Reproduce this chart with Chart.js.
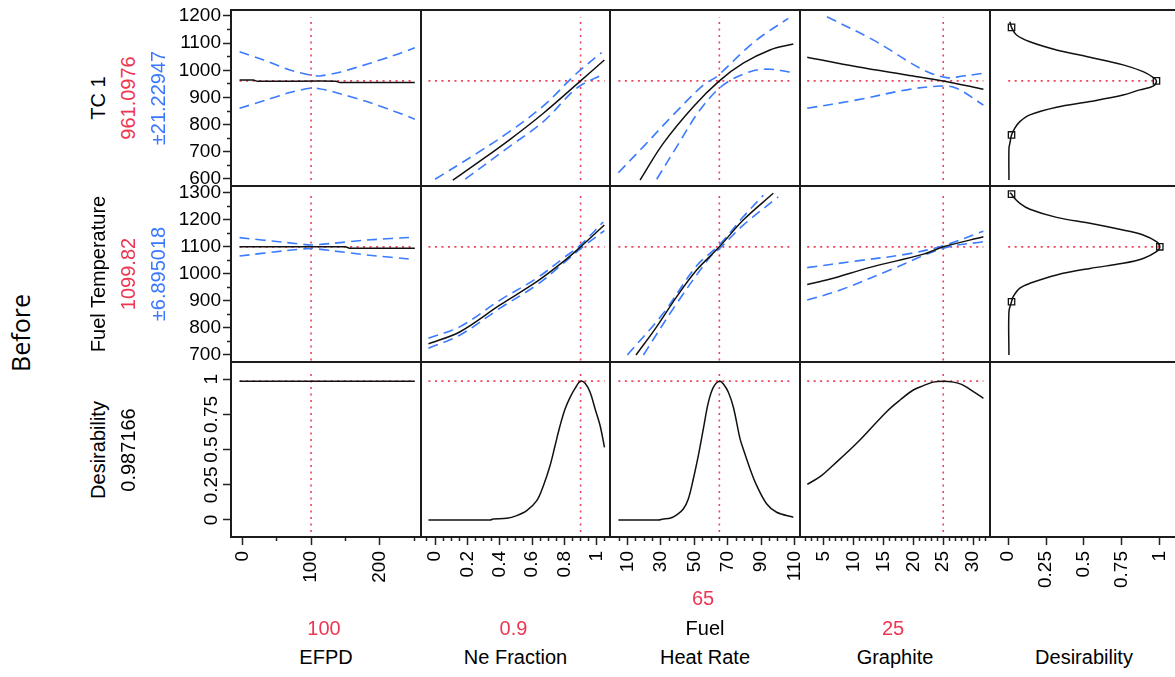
<!DOCTYPE html>
<html>
<head>
<meta charset="utf-8">
<title>Prediction Profiler</title>
<script src="https://cdn.jsdelivr.net/npm/chart.js@4.4.1/dist/chart.umd.min.js"></script>
<style>
  html, body { margin: 0; padding: 0; background: #fff; }
  body { position: relative; width: 1175px; height: 677px; overflow: hidden;
         font-family: 'Liberation Sans', Arial, sans-serif; }
  canvas { position: absolute; }
  .lbl { position: absolute; white-space: nowrap; font-size: 20px; line-height: 1;
         color: #000; transform: translate(-50%, -50%); }
  .lbl.rot { transform: translate(-50%, -50%) rotate(-90deg); }
</style>
</head>
<body>
<script>
// ---- factors and responses ----
const factorLabels = [['EFPD'], ['Ne Fraction'], ['Fuel', 'Heat Rate'], ['Graphite'], ['Desirability']];
const factorSettings = [100, 0.9, 65, 25];
const factorSpans = [[-4, 251], [-0.041, 1.048], [4.5, 109.3], [2.3, 31.7]];
const responseLabels = ['TC 1', 'Fuel Temperature', 'Desirability'];
const responsePredicted = [961.0976, 1099.82, 0.987166];
const responseHalfWidth = [21.22947, 6.895018, null];
const responseSpans = [[596, 1196], [680, 1298], [-0.085, 1.066]];

// ---- tick labels ----
const efpdTicks = [0, 100, 200];
const efpdMinor = [50, 150, 250];
const neTicks = [0, 0.2, 0.4, 0.6, 0.8, 1];
const heatTicks = [10, 30, 50, 70, 90, 110];
const graphiteTicks = [5, 10, 15, 20, 25, 30];
const desireTicks = [0, 0.25, 0.5, 0.75, 1];
const tc1Ticks = [600, 700, 800, 900, 1000, 1100, 1200];
const fuelTempTicks = [700, 800, 900, 1000, 1100, 1200, 1300];

// ---- TC 1 profiles: [factor, response] ----
const tc1EfpdFit = [[-4, 964], [16, 964], [22, 960], [136, 960], [142, 955], [251, 955]];
const tc1EfpdHi = [[-4, 1068], [31, 1038], [69, 1001], [100, 982], [113, 979], [142, 993], [181, 1022], [229, 1062], [251, 1083]];
const tc1EfpdLo = [[-4, 860], [35, 891], [69, 918], [98, 934], [110, 933], [132, 921], [181, 885], [229, 842], [251, 820]];
const tc1NeFit = [[0.11, 596], [0.26, 658], [0.46, 744], [0.67, 842], [0.9, 961], [1.047, 1038]];
const tc1NeHi = [[0, 599], [0.26, 695], [0.46, 774], [0.67, 869], [0.876, 989], [1.03, 1065]];
const tc1NeLo = [[0.186, 599], [0.46, 719], [0.67, 811], [0.876, 934], [1.03, 983]];
const tc1HeatFit = [[17.5, 596], [31.4, 731], [49.4, 866], [65, 961], [79.3, 1026], [95.3, 1075], [109.3, 1097]];
const tc1HeatHi = [[4.5, 623], [19.5, 719], [37.4, 836], [55.4, 946], [63.8, 979], [81.4, 1081], [91.3, 1130], [106.3, 1191]];
const tc1HeatLo = [[27.5, 599], [39.5, 719], [53.4, 854], [67.4, 946], [83.4, 995], [95.3, 1004], [109.3, 991]];
const tc1GraphFit = [[2.3, 1048], [10.6, 1013], [18.9, 983], [25, 961], [31.7, 930]];
const tc1GraphHi = [[5.6, 1197], [13.3, 1112], [21.7, 1001], [25.6, 973], [28.3, 979], [31.7, 989]];
const tc1GraphLo = [[2.3, 860], [10.6, 891], [18.9, 928], [24.5, 942], [27.2, 934], [31.7, 872]];
// desirability function for TC 1: [desirability, TC 1]
const tc1Desire = [[0.011, 1179], [0.022, 1158], [0.055, 1130], [0.143, 1105], [0.319, 1075], [0.539, 1048],
  [0.758, 1020], [0.89, 995], [0.956, 974], [0.978, 961], [0.956, 942], [0.868, 928], [0.758, 909],
  [0.539, 885], [0.319, 864], [0.143, 836], [0.077, 811], [0.044, 787], [0.022, 762], [0.011, 731],
  [0.005, 713], [0.005, 596]];
const tc1Marks = [[0.022, 1158], [0.978, 961], [0.022, 762]];

// ---- Fuel Temperature profiles ----
const ftEfpdFit = [[-4, 1100], [150, 1100], [156, 1095], [251, 1095]];
const ftEfpdHi = [[-4, 1134], [60, 1117], [100, 1107], [132, 1113], [181, 1125], [251, 1136]];
const ftEfpdLo = [[-4, 1066], [60, 1085], [100, 1094], [132, 1085], [181, 1070], [251, 1053]];
const ftNeFit = [[-0.041, 741], [0.155, 786], [0.402, 885], [0.629, 971], [0.793, 1045], [0.9, 1100], [1.047, 1181]];
const ftNeHi = [[-0.041, 762], [0.155, 805], [0.402, 903], [0.629, 984], [0.793, 1058], [0.9, 1107], [1.04, 1192]];
const ftNeLo = [[-0.041, 725], [0.155, 774], [0.402, 873], [0.629, 959], [0.793, 1039], [0.9, 1093], [1.047, 1160]];
const ftHeatFit = [[15.1, 700], [27.5, 805], [39.5, 916], [51.4, 1014], [65, 1100], [79.3, 1199], [97.3, 1298]];
const ftHeatHi = [[9.9, 700], [31.4, 854], [51.4, 1030], [65, 1107], [79.3, 1211], [91.3, 1291]];
const ftHeatLo = [[19.5, 700], [39.5, 891], [59.4, 1062], [65, 1093], [79.3, 1180], [100.3, 1285]];
const ftGraphFit = [[2.3, 961], [6, 980], [12.8, 1024], [21.7, 1073], [25, 1100], [31.7, 1137]];
const ftGraphHi = [[2.3, 1023], [10.6, 1048], [18.9, 1073], [25, 1104], [31.7, 1158]];
const ftGraphLo = [[2.3, 903], [7.8, 940], [16.1, 1014], [25, 1095], [31.7, 1119]];
const ftDesire = [[0.011, 1300], [0.022, 1295], [0.033, 1285], [0.077, 1261], [0.143, 1239], [0.319, 1209],
  [0.539, 1187], [0.758, 1162], [0.89, 1144], [0.978, 1119], [1.0, 1100], [0.978, 1082], [0.89, 1057],
  [0.758, 1039], [0.539, 1020], [0.319, 996], [0.143, 965], [0.077, 947], [0.033, 916], [0.022, 897],
  [0.005, 860], [0.005, 700]];
const ftMarks = [[0.022, 1295], [1.0, 1100], [0.022, 897]];

// ---- overall desirability profiles ----
const desEfpd = [[-4, 0.987], [251, 0.987]];
const desNe = [[-0.041, 0], [0.34, 0], [0.36, 0.007], [0.443, 0.012], [0.505, 0.031], [0.567, 0.066],
  [0.629, 0.137], [0.67, 0.244], [0.711, 0.386], [0.742, 0.528], [0.773, 0.67], [0.804, 0.789],
  [0.835, 0.872], [0.866, 0.936], [0.9, 0.987], [0.928, 0.972], [0.959, 0.908], [0.99, 0.789],
  [1.021, 0.67], [1.048, 0.516]];
const desHeat = [[4.5, 0], [28.4, 0], [31.4, 0.007], [35.4, 0.012], [39.5, 0.036], [43.4, 0.078],
  [46.4, 0.149], [49.4, 0.291], [52.4, 0.457], [55.4, 0.647], [58.4, 0.836], [61.4, 0.943], [65, 0.987],
  [67.4, 0.967], [70.4, 0.908], [73.4, 0.801], [77.4, 0.576], [79.3, 0.505], [83.4, 0.363],
  [87.4, 0.244], [93.4, 0.114], [99.3, 0.055], [109.3, 0.019]];
const desGraph = [[2.33, 0.254], [4.45, 0.308], [6.67, 0.391], [10.55, 0.545], [15.55, 0.77],
  [17.8, 0.853], [20, 0.924], [21.7, 0.955], [23.3, 0.98], [25, 0.987], [26.7, 0.98], [28.05, 0.964],
  [29.45, 0.929], [31.7, 0.865]];

// ---- layout ----
const colEdges = [231, 421, 610, 800, 990, 1178];
const rowEdges = [10, 186, 362, 537];
const AXIS_W = 70, AXIS_H = 60, PAD = 2;
const RED = '#f0405a', BLUE = '#3b7bff', INK = '#111';

Chart.defaults.font.family = "'Liberation Sans', Arial, sans-serif";
Chart.defaults.font.size = 19;
Chart.defaults.color = '#000';

function stepRange(from, to, step) {
  const out = [];
  const n = Math.round((to - from) / step);
  for (let i = 0; i <= n; i++) out.push(Math.round((from + i * step) * 1e6) / 1e6);
  return out;
}

function tickSet(major, minor) {
  const out = major.map(v => ({ value: v }));
  minor.forEach(v => {
    if (!major.some(m => Math.abs(m - v) < 1e-9)) out.push({ value: v, minor: true });
  });
  return out.sort((a, b) => a.value - b.value);
}

const colAxes = [
  { min: -16.5, max: 260, ticks: tickSet(efpdTicks, efpdMinor) },
  { min: -0.087, max: 1.082, ticks: tickSet(neTicks, stepRange(-0.05, 1.05, 0.05)) },
  { min: -0.5, max: 113.3, ticks: tickSet(heatTicks, stepRange(5, 110, 5)) },
  { min: 1.1, max: 32.8, ticks: tickSet(graphiteTicks, stepRange(2, 32, 1)) },
  { min: -0.12, max: 1.12, ticks: tickSet(desireTicks, []) }
];
const rowAxes = [
  { min: 574, max: 1222, ticks: tickSet(tc1Ticks, stepRange(650, 1150, 100)) },
  { min: 674, max: 1325, ticks: tickSet(fuelTempTicks, stepRange(750, 1250, 100)) },
  { min: -0.121, max: 1.123, ticks: tickSet(desireTicks, []), rotate: true }
];

// curves per panel [row][col]
const panelCurves = [
  [
    { fit: tc1EfpdFit, hi: tc1EfpdHi, lo: tc1EfpdLo, tension: 0.2 },
    { fit: tc1NeFit, hi: tc1NeHi, lo: tc1NeLo },
    { fit: tc1HeatFit, hi: tc1HeatHi, lo: tc1HeatLo },
    { fit: tc1GraphFit, hi: tc1GraphHi, lo: tc1GraphLo },
    { fit: tc1Desire, marks: tc1Marks }
  ],
  [
    { fit: ftEfpdFit, hi: ftEfpdHi, lo: ftEfpdLo, tension: 0.2 },
    { fit: ftNeFit, hi: ftNeHi, lo: ftNeLo },
    { fit: ftHeatFit, hi: ftHeatHi, lo: ftHeatLo },
    { fit: ftGraphFit, hi: ftGraphHi, lo: ftGraphLo },
    { fit: ftDesire, marks: ftMarks }
  ],
  [
    { fit: desEfpd, tension: 0 },
    { fit: desNe },
    { fit: desHeat },
    { fit: desGraph },
    null
  ]
];

const toXY = pts => pts.map(([x, y]) => ({ x, y }));

function line(points, color, width, dash, order, tension) {
  return {
    data: toXY(points), borderColor: color, borderWidth: width, borderDash: dash,
    pointRadius: 0, tension: tension, fill: false, order: order
  };
}

function panelDatasets(r, c) {
  const spec = panelCurves[r][c];
  const sets = [];
  if (!spec) return sets;
  const t = spec.tension !== undefined ? spec.tension : 0.35;
  sets.push(line(spec.fit, INK, 1.5, [], 0, t));
  if (spec.hi) sets.push(line(spec.hi, BLUE, 1.6, [10, 6], 1, t));
  if (spec.lo) sets.push(line(spec.lo, BLUE, 1.6, [10, 6], 1, t));
  if (spec.marks) {
    sets.push({
      data: toXY(spec.marks), showLine: false, pointStyle: 'rect', pointRadius: 4.5,
      pointBorderColor: INK, pointBackgroundColor: 'rgba(255,255,255,0)', pointBorderWidth: 1.3, order: 0
    });
    // current response level, out to the predicted desirability
    const peak = spec.marks[1];
    sets.push(line([[0, responsePredicted[r]], [peak[0], responsePredicted[r]]], RED, 1.6, [2, 4.5], 2, 0));
  } else {
    const span = factorSpans[c];
    sets.push(line([[span[0], responsePredicted[r]], [span[1], responsePredicted[r]]], RED, 1.6, [2, 4.5], 2, 0));
  }
  if (c < factorSettings.length) {
    const ys = responseSpans[r];
    sets.push(line([[factorSettings[c], ys[0]], [factorSettings[c], ys[1]]], RED, 1.6, [2, 4.5], 2, 0));
  }
  return sets;
}

function axisOptions(horizontal, cfg, shown) {
  const opt = {
    type: 'linear',
    position: horizontal ? 'bottom' : 'left',
    min: cfg.min,
    max: cfg.max,
    display: shown,
    border: { display: false },
    grid: {
      drawOnChartArea: false,
      tickLength: 8,
      tickWidth: 1.5,
      tickColor: '#222',
      // minor ticks keep only the half next to the frame
      tickBorderDash: ctx => (ctx.tick && ctx.tick.minor) ? (horizontal ? [4, 50] : [0, 4, 4, 50]) : []
    },
    ticks: {
      autoSkip: false,
      color: '#000',
      padding: 2,
      callback: (v, i, ticks) => ticks[i].minor ? '' : String(v)
    },
    afterBuildTicks: scale => { scale.ticks = cfg.ticks.map(t => Object.assign({}, t)); }
  };
  if (horizontal) {
    opt.ticks.minRotation = 90;
    opt.ticks.maxRotation = 90;
    opt.ticks.padding = 6;
  } else if (cfg.rotate) {
    opt.ticks.minRotation = 90;
    opt.ticks.maxRotation = 90;
    opt.ticks.crossAlign = 'center';
    opt.ticks.padding = -7.5;
  }
  if (shown) {
    opt.afterFit = scale => {
      if (horizontal) scale.height = AXIS_H; else scale.width = AXIS_W;
      scale.paddingLeft = 0; scale.paddingRight = 0;
      scale.paddingTop = 0; scale.paddingBottom = 0;
    };
  }
  return opt;
}

const panelFrame = {
  id: 'panelFrame',
  afterDraw(chart) {
    const a = chart.chartArea, ctx = chart.ctx;
    ctx.save();
    ctx.strokeStyle = '#1c1c1c';
    ctx.lineWidth = 2;
    ctx.strokeRect(a.left, a.top, a.right - a.left, a.bottom - a.top);
    ctx.restore();
  }
};

for (let r = 0; r < 3; r++) {
  for (let c = 0; c < 5; c++) {
    const showY = c === 0, showX = r === 2;
    const w = colEdges[c + 1] - colEdges[c] + 2 * PAD + (showY ? AXIS_W : 0);
    const h = rowEdges[r + 1] - rowEdges[r] + 2 * PAD + (showX ? AXIS_H : 0);
    const cv = document.createElement('canvas');
    cv.width = w; cv.height = h;
    cv.style.width = w + 'px'; cv.style.height = h + 'px';
    cv.style.left = (colEdges[c] - PAD - (showY ? AXIS_W : 0)) + 'px';
    cv.style.top = (rowEdges[r] - PAD) + 'px';
    document.body.appendChild(cv);
    new Chart(cv.getContext('2d'), {
      type: 'line',
      data: { datasets: panelDatasets(r, c) },
      options: {
        responsive: false,
        animation: false,
        devicePixelRatio: 1,
        events: [],
        layout: { padding: PAD, autoPadding: false },
        plugins: { legend: { display: false }, tooltip: { enabled: false } },
        scales: {
          x: axisOptions(true, colAxes[c], showX),
          y: axisOptions(false, rowAxes[r], showY)
        }
      },
      plugins: [panelFrame]
    });
  }
}

// ---- text around the grid ----
function addLabel(text, x, y, opts) {
  const d = document.createElement('div');
  d.className = 'lbl' + (opts.rot ? ' rot' : '');
  d.textContent = text;
  d.style.left = x + 'px';
  d.style.top = y + 'px';
  if (opts.color) d.style.color = opts.color;
  if (opts.font) d.style.fontFamily = opts.font;
  if (opts.size) d.style.fontSize = opts.size + 'px';
  document.body.appendChild(d);
}

addLabel('Before', 20, 333, { rot: true, font: "'Open Sans', sans-serif", size: 25 });

const TEXT_RED = '#ee3652', TEXT_BLUE = '#3a78ff';
responseLabels.forEach((name, r) => {
  const cy = (rowEdges[r] + rowEdges[r + 1]) / 2;
  addLabel(name, 98, cy, { rot: true });
  const isDesire = responseHalfWidth[r] === null;
  addLabel(String(responsePredicted[r]), 127.5, cy, { rot: true, color: isDesire ? '#000' : TEXT_RED });
  if (!isDesire) addLabel('±' + responseHalfWidth[r], 157.5, cy, { rot: true, color: TEXT_BLUE });
});

factorLabels.forEach((lines, c) => {
  const cx = (colEdges[c] + colEdges[c + 1]) / 2;
  let y = 657;
  for (let i = lines.length - 1; i >= 0; i--) {
    addLabel(lines[i], cx, y, {});
    y -= 29.5;
  }
  if (c < factorSettings.length) addLabel(String(factorSettings[c]), cx - 2, y, { color: TEXT_RED });
});
</script>
</body>
</html>
